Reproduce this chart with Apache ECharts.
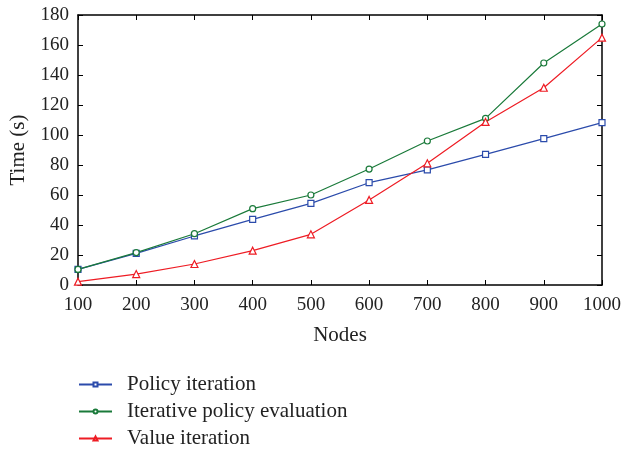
<!DOCTYPE html>
<html><head><meta charset="utf-8">
<script src="https://cdn.jsdelivr.net/npm/echarts@6/dist/echarts.min.js"></script>
<style>html,body{margin:0;padding:0;background:#fff}#c{width:624px;height:449px}</style>
</head><body><div id="c"></div>
<script>
const nodes = [100, 200, 300, 400, 500, 600, 700, 800, 900, 1000];
const policyIteration = [10.4, 21.1, 32.7, 43.8, 54.4, 68.2, 76.7, 87.1, 97.6, 108.2];
const iterativePolicyEvaluation = [10.4, 21.6, 34.2, 50.9, 60.0, 77.3, 96.0, 111.1, 148.0, 174.0];
const valueIteration = [2.2, 7.3, 14.0, 22.9, 33.8, 56.7, 81.1, 108.7, 131.5, 164.9];
const seriesNames = ['Policy iteration', 'Iterative policy evaluation', 'Value iteration'];

const font = 'Liberation Serif';
const pair = (arr) => nodes.map((n, i) => [n, arr[i]]);
const chart = echarts.init(document.getElementById('c'));
const axisLine = {show: true, onZero: false, lineStyle: {color: '#000', width: 1.5}};
const tick = {show: true, inside: true, length: 5, lineStyle: {color: '#000', width: 1}};
const legendTops = [369, 396, 423];
chart.setOption({
  animation: false,
  grid: {left: 78, right: 20, top: 15, bottom: 164, containLabel: false},
  legend: seriesNames.map((n, i) => ({
    orient: 'vertical', left: 73, top: legendTops[i], itemWidth: 33, itemHeight: 5,
    textStyle: {fontFamily: font, fontSize: 21, color: '#222', padding: [0, 0, 0, 10]},
    data: [n]
  })),
  xAxis: [{
    type: 'value', min: 100, max: 1000, interval: 100,
    axisLine, axisTick: tick, splitLine: {show: false},
    axisLabel: {fontFamily: font, fontSize: 19, color: '#222', margin: 11, formatter: v => String(v)},
    name: 'Nodes', nameLocation: 'middle', nameGap: 40,
    nameTextStyle: {fontFamily: font, fontSize: 21, color: '#222'}
  }, {
    type: 'value', position: 'top', min: 100, max: 1000, interval: 100,
    axisLine, axisTick: tick, axisLabel: {show: false}, splitLine: {show: false}
  }],
  yAxis: [{
    type: 'value', min: 0, max: 180, interval: 20,
    axisLine, axisTick: tick, splitLine: {show: false},
    axisLabel: {fontFamily: font, fontSize: 19, color: '#222', margin: 9},
    name: 'Time (s)', nameLocation: 'middle', nameGap: 49, nameRotate: 90,
    nameTextStyle: {fontFamily: font, fontSize: 21, color: '#222'}
  }, {
    type: 'value', position: 'right', min: 0, max: 180, interval: 20,
    axisLine, axisTick: tick, axisLabel: {show: false}, splitLine: {show: false}
  }],
  series: [
    {name: seriesNames[0], type: 'line', data: pair(policyIteration),
     symbol: 'rect', symbolSize: 6, color: '#2b4bab',
     lineStyle: {width: 1.2, color: '#2b4bab'},
     itemStyle: {color: '#fff', borderColor: '#2b4bab', borderWidth: 1.2}},
    {name: seriesNames[1], type: 'line', data: pair(iterativePolicyEvaluation),
     symbol: 'circle', symbolSize: 6, color: '#1a7a3a',
     lineStyle: {width: 1.2, color: '#1a7a3a'},
     itemStyle: {color: '#fff', borderColor: '#1a7a3a', borderWidth: 1.2}},
    {name: seriesNames[2], type: 'line', data: pair(valueIteration),
     symbol: 'triangle', symbolSize: 7, color: '#ee1c24',
     lineStyle: {width: 1.2, color: '#ee1c24'},
     itemStyle: {color: '#fff', borderColor: '#ee1c24', borderWidth: 1.2}}
  ]
});
</script></body></html>
